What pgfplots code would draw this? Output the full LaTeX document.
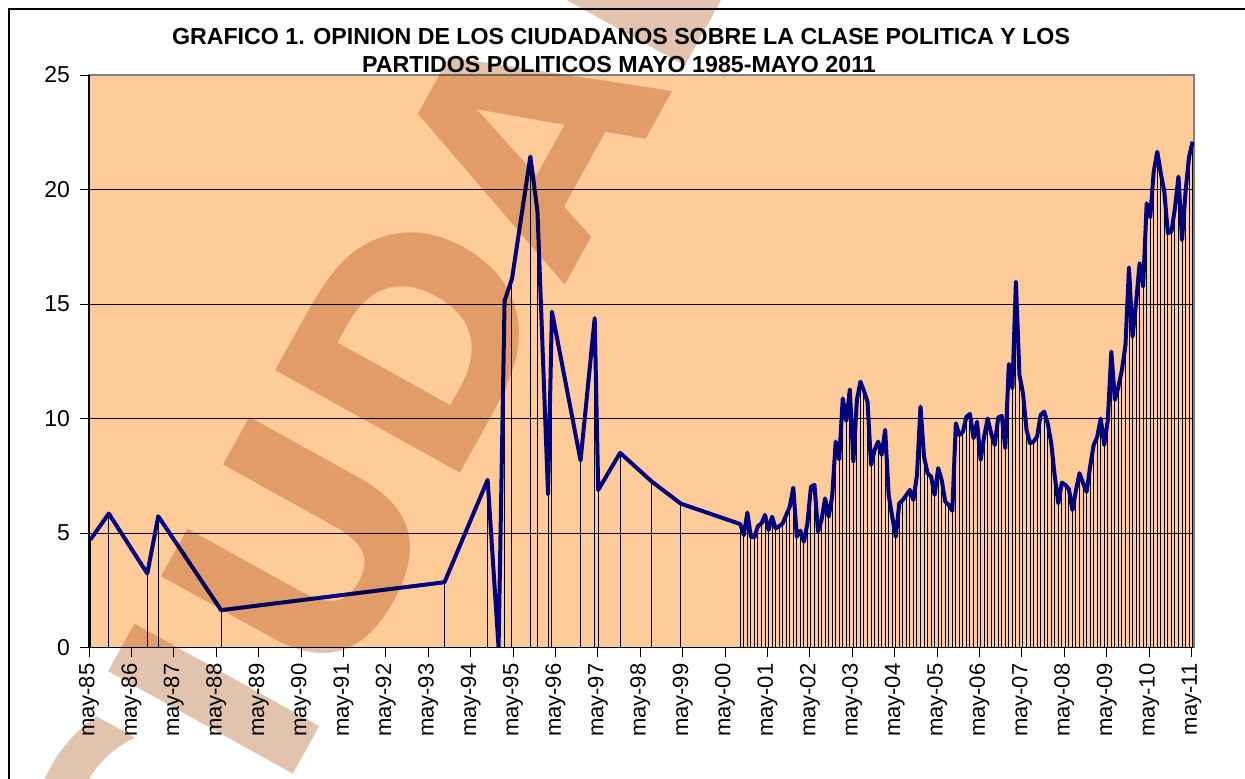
\documentclass[border=0pt]{standalone}
\usepackage{fontspec}
\setmainfont{Liberation Sans}
\newfontfamily\wmfont{DejaVu Sans}
\usepackage{pgfplots}
\pgfplotsset{compat=1.18}

\definecolor{plotbg}{HTML}{FFCC99}
\definecolor{navyline}{HTML}{000080}
\definecolor{wmark}{HTML}{E2C4AE}
\definecolor{frame}{HTML}{808080}

% months since May 1985, value
\pgfplotstableread{
m v
0.4 4.71
5.6 5.85
16.5 3.23
19.6 5.73
37.4 1.63
100.6 2.85
112.8 7.32
115.9 0.00
117.6 15.14
119.7 16.10
124.9 21.44
126.9 19.06
129.9 6.69
131.0 14.67
139.1 8.17
143.1 14.38
144.1 6.88
150.3 8.50
159.3 7.24
167.5 6.28
184.3 5.39
185.3 4.91
186.3 5.89
187.3 4.84
188.3 4.81
189.3 5.30
190.3 5.42
191.3 5.79
192.3 5.13
193.3 5.71
194.3 5.20
195.3 5.30
196.3 5.42
197.3 5.79
198.3 6.15
199.3 6.98
200.3 4.84
201.3 5.10
202.3 4.62
203.3 5.42
204.3 7.02
205.3 7.10
206.3 5.06
207.3 5.57
208.3 6.51
209.3 5.71
210.3 6.59
211.3 8.99
212.3 8.22
213.3 10.88
214.3 9.90
215.3 11.27
216.3 8.11
217.3 10.81
218.3 11.61
219.3 11.20
220.3 10.73
221.3 7.97
222.3 8.62
223.3 8.99
224.3 8.41
225.3 9.50
226.3 6.66
227.3 5.71
228.3 4.84
229.3 6.30
230.3 6.44
231.3 6.66
232.3 6.88
233.3 6.44
234.3 7.53
235.3 10.52
236.3 8.33
237.3 7.61
238.3 7.46
239.3 6.66
240.3 7.83
241.3 7.31
242.3 6.37
243.3 6.22
244.3 5.97
245.3 9.79
246.3 9.28
247.3 9.42
248.3 10.08
249.3 10.20
250.3 9.14
251.3 9.86
252.3 8.19
253.3 9.20
254.3 10.00
255.3 9.35
256.3 8.84
257.3 10.05
258.3 10.11
259.3 8.70
260.3 12.38
261.3 11.32
262.3 15.97
263.3 11.90
264.3 11.10
265.3 9.50
266.3 8.92
267.3 8.99
268.3 9.21
269.3 10.15
270.3 10.30
271.3 9.79
272.3 8.92
273.3 7.46
274.3 6.30
275.3 7.20
276.3 7.10
277.3 6.91
278.3 6.00
279.3 6.88
280.3 7.61
281.3 7.17
282.3 6.80
283.3 7.90
284.3 8.84
285.3 9.20
286.3 10.00
287.3 8.84
288.3 9.93
289.3 12.92
290.3 10.81
291.3 11.39
292.3 12.12
293.3 13.20
294.3 16.60
295.3 13.57
296.3 15.03
297.3 16.78
298.3 15.76
299.3 19.40
300.3 18.79
301.3 20.78
302.3 21.65
303.3 20.71
304.3 19.90
305.3 18.09
306.3 18.16
307.3 19.18
308.3 20.56
309.3 17.79
310.3 19.90
311.3 21.43
312.3 22.09
}\opinion

\begin{document}
\begin{tikzpicture}
\path[use as bounding box] (0,0) rectangle (622.5pt,389pt);

\begin{axis}[
  at={(44.5pt,65.25pt)}, anchor=south west,
  scale only axis, width=552.5pt, height=286.25pt,
  xmin=0, xmax=312.7, ymin=0, ymax=25,
  axis background/.style={fill=plotbg},
  axis line style={draw=frame, line width=0.6pt},
  xtick={0,12,...,312},
  xticklabels={may-85,may-86,may-87,may-88,may-89,may-90,may-91,may-92,may-93,
    may-94,may-95,may-96,may-97,may-98,may-99,may-00,may-01,may-02,may-03,
    may-04,may-05,may-06,may-07,may-08,may-09,may-10,may-11},
  ytick={0,5,...,25},
  ymajorgrids, grid style={black, line width=0.5pt},
  tick align=outside, tick pos=left,
  major tick length=4.5pt,
  tick style={black, line width=0.5pt},
  /pgf/number format/assume math mode=true,
  ticklabel style={font=\fontsize{11}{13}\selectfont},
  xticklabel style={rotate=90, anchor=east},
  yticklabel style={font=\fontsize{11.5}{13}\selectfont, xshift=-1.5pt},
  clip mode=individual,
]
\addplot[ycomb, black, line width=0.5pt, mark=none] table[x=m, y=v] {\opinion};
\addplot[navyline, line width=2pt, line join=round, mark=none] table[x=m, y=v] {\opinion};
\draw[black, line width=0.6pt] (rel axis cs:0,1) -- (rel axis cs:0,0) -- (rel axis cs:1,0);
\end{axis}

\node[anchor=base, font=\fontsize{11.6}{13}\selectfont\bfseries] at (310.5pt,366.55pt)
  {GRAFICO 1. OPINION DE LOS CIUDADANOS SOBRE LA CLASE POLITICA Y LOS};
\node[anchor=base, font=\fontsize{11.6}{13}\selectfont\bfseries] at (309.5pt,352.7pt)
  {PARTIDOS POLITICOS MAYO 1985-MAYO 2011};

\begin{scope}
\clip (0,0) rectangle (622.5pt,389pt);
\draw[black, line width=1pt] (4.5pt,-10pt) -- (4.5pt,384.5pt) -- (640pt,384.5pt);
\begin{scope}[blend mode=multiply]
\node[anchor=base west, rotate=61, inner sep=0pt, text=wmark,
  font=\wmfont\bfseries\fontsize{145}{150}\selectfont] at (88.75pt,-102.8pt) {CIUDADANOS};
\end{scope}
\end{scope}
\end{tikzpicture}
\end{document}
